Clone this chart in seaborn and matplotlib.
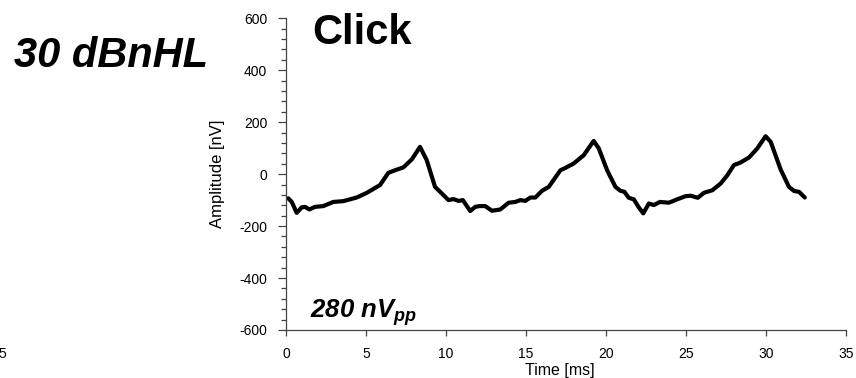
import seaborn as sns
import pandas as pd
import numpy as np
import matplotlib.pyplot as plt
from matplotlib.ticker import MultipleLocator

# waveform (time in ms, amplitude in nV)
time_ms = [0.14, 0.36, 0.67, 0.98, 1.19, 1.46, 1.81, 2.33, 2.96, 3.58, 4.42, 5.05,
           5.88, 6.40, 6.82, 7.34, 7.87, 8.38, 8.80, 9.32, 9.74, 10.16, 10.47, 10.79,
           11.06, 11.52, 11.83, 12.10, 12.46, 12.88, 13.40, 13.92, 14.34, 14.65, 14.97,
           15.28, 15.59, 16.01, 16.43, 17.16, 17.47, 17.99, 18.62, 19.24, 19.56, 20.08,
           20.60, 20.91, 21.16, 21.43, 21.75, 22.06, 22.34, 22.69, 23.00, 23.38, 23.94,
           24.46, 24.98, 25.30, 25.75, 26.13, 26.66, 27.18, 27.60, 28.01, 28.43, 28.95,
           29.47, 29.99, 30.31, 30.93, 31.45, 31.77, 32.08, 32.44]
amp_nv = [-93, -107, -149, -128, -126, -136, -126, -123, -107, -104, -90, -72,
          -42, 5, 15, 26, 57, 105, 54, -49, -74, -100, -96, -103,
          -100, -142, -126, -123, -123, -141, -136, -110, -107, -100, -103,
          -90, -90, -64, -49, 15, 24, 41, 73, 128, 99, 15,
          -49, -64, -68, -91, -97, -128, -151, -113, -119, -107, -110,
          -97, -85, -83, -91, -72, -62, -36, -4, 35, 45, 64,
          99, 146, 124, 18, -49, -65, -68, -90]

df = pd.DataFrame({"time": time_ms, "amp": amp_nv})

sns.set_style("ticks")
plt.rcParams['font.family'] = ['Liberation Sans', 'DejaVu Sans']
plt.rcParams['mathtext.fontset'] = 'custom'
plt.rcParams['mathtext.it'] = 'Liberation Sans:italic:bold'
plt.rcParams['mathtext.rm'] = 'Liberation Sans:italic:bold'
plt.rcParams['axes.unicode_minus'] = False
plt.rcParams['text.color'] = 'black'
plt.rcParams['axes.labelcolor'] = 'black'
plt.rcParams['xtick.labelcolor'] = 'black'
plt.rcParams['ytick.labelcolor'] = 'black'

fig = plt.figure(figsize=(8.56, 3.78), dpi=100)
ax = fig.add_axes([0.3341, 0.127, 0.6539, 0.8246])

sns.lineplot(data=df, x="time", y="amp", color="black", linewidth=3,
             sort=False, estimator=None, ax=ax)

ax.set_xlim(0, 35)
ax.set_ylim(-600, 600)
ax.set_xticks(range(0, 36, 5))
ax.set_yticks(range(-600, 601, 200))
ax.yaxis.set_minor_locator(MultipleLocator(40))
sns.despine(ax=ax)
for s in ["left", "bottom"]:
    ax.spines[s].set_color("#444444")
    ax.spines[s].set_linewidth(0.9)
ax.tick_params(axis="both", which="major", width=0.9, color="#444444",
               labelsize=10, pad=8)
ax.tick_params(axis="y", which="major", length=5.5)
ax.tick_params(axis="x", which="major", length=4.5)
ax.tick_params(axis="y", which="minor", length=3.5, width=0.9, color="#444444")
ax.set_xlabel("Time [ms]", fontsize=11.5, labelpad=0.5)
ax.xaxis.set_label_coords(0.49, -0.105)
ax.set_ylabel("Amplitude [nV]", fontsize=12, labelpad=10)

ax.text(0.047, 0.917, "Click", transform=ax.transAxes, fontsize=30,
        fontweight="bold", va="baseline", ha="left")
ax.text(0.043, 0.04, "280 nV$_{pp}$", transform=ax.transAxes, fontsize=18.5,
        fontweight="bold", style="italic", va="baseline", ha="left")
fig.text(0.13, 0.853, "30 dBnHL", fontsize=30, fontweight="bold", style="italic",
         va="center", ha="center")
# clipped tick label of the neighbouring panel, as in the source figure
fig.text(0.007, 0.063, "5", fontsize=10, ha="right", va="center")

fig.savefig("out.png", dpi=100)
